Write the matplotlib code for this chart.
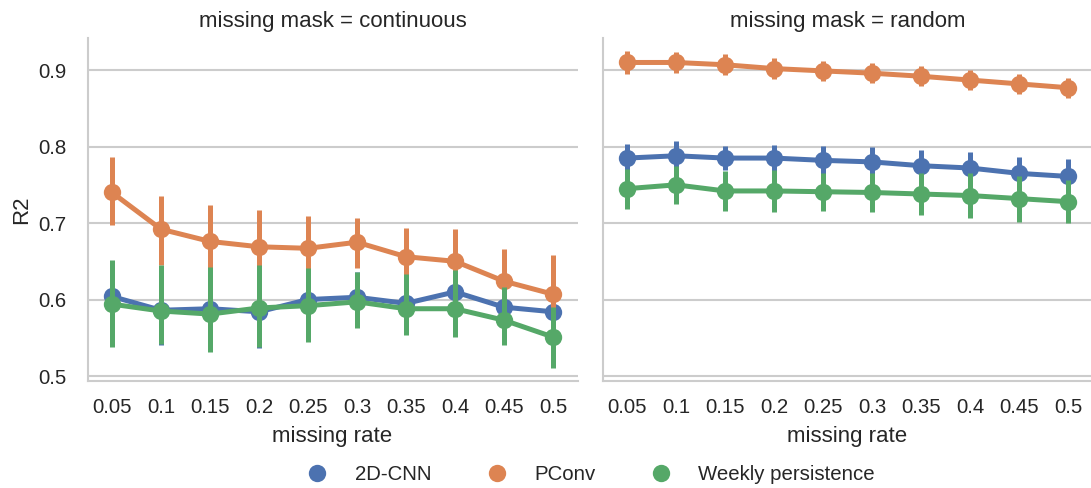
import matplotlib
matplotlib.use("Agg")
import matplotlib.pyplot as plt
from matplotlib.lines import Line2D

plt.rcParams['font.family'] = ['Liberation Sans', 'DejaVu Sans']

rates = ["0.05", "0.1", "0.15", "0.2", "0.25", "0.3", "0.35", "0.4", "0.45", "0.5"]
models = ["2D-CNN", "PConv", "Weekly persistence"]
masks = ["continuous", "random"]
colors = ["#4C72B0", "#DD8452", "#55A868"]

# continuous mask
cont_cnn_mean = [0.604, 0.586, 0.588, 0.584, 0.600, 0.603, 0.595, 0.610, 0.590, 0.584]
cont_cnn_lo = [0.548, 0.540, 0.540, 0.536, 0.550, 0.568, 0.558, 0.560, 0.548, 0.545]
cont_cnn_hi = [0.650, 0.638, 0.640, 0.635, 0.645, 0.636, 0.632, 0.650, 0.628, 0.620]

cont_pconv_mean = [0.740, 0.692, 0.676, 0.669, 0.667, 0.675, 0.656, 0.650, 0.624, 0.607]
cont_pconv_lo = [0.698, 0.645, 0.630, 0.622, 0.627, 0.641, 0.620, 0.610, 0.585, 0.560]
cont_pconv_hi = [0.786, 0.735, 0.724, 0.717, 0.709, 0.707, 0.693, 0.692, 0.666, 0.658]

cont_week_mean = [0.594, 0.585, 0.581, 0.589, 0.592, 0.597, 0.588, 0.588, 0.573, 0.551]
cont_week_lo = [0.538, 0.542, 0.531, 0.538, 0.544, 0.563, 0.554, 0.551, 0.540, 0.510]
cont_week_hi = [0.652, 0.645, 0.643, 0.645, 0.641, 0.636, 0.634, 0.639, 0.617, 0.590]

# random mask
rand_cnn_mean = [0.785, 0.788, 0.785, 0.785, 0.782, 0.780, 0.775, 0.772, 0.765, 0.761]
rand_cnn_lo = [0.766, 0.769, 0.769, 0.768, 0.763, 0.760, 0.755, 0.751, 0.743, 0.738]
rand_cnn_hi = [0.804, 0.807, 0.801, 0.802, 0.801, 0.800, 0.795, 0.793, 0.787, 0.784]

rand_pconv_mean = [0.910, 0.910, 0.907, 0.902, 0.899, 0.896, 0.892, 0.887, 0.882, 0.877]
rand_pconv_lo = [0.895, 0.896, 0.893, 0.888, 0.886, 0.883, 0.879, 0.874, 0.869, 0.864]
rand_pconv_hi = [0.925, 0.924, 0.921, 0.916, 0.912, 0.909, 0.905, 0.900, 0.895, 0.890]

rand_week_mean = [0.745, 0.750, 0.742, 0.742, 0.741, 0.740, 0.738, 0.736, 0.732, 0.728]
rand_week_lo = [0.719, 0.725, 0.716, 0.714, 0.716, 0.715, 0.710, 0.707, 0.702, 0.700]
rand_week_hi = [0.771, 0.775, 0.768, 0.770, 0.766, 0.765, 0.766, 0.765, 0.762, 0.756]

panels = {
    "continuous": [(cont_cnn_mean, cont_cnn_lo, cont_cnn_hi),
                   (cont_pconv_mean, cont_pconv_lo, cont_pconv_hi),
                   (cont_week_mean, cont_week_lo, cont_week_hi)],
    "random": [(rand_cnn_mean, rand_cnn_lo, rand_cnn_hi),
               (rand_pconv_mean, rand_pconv_lo, rand_pconv_hi),
               (rand_week_mean, rand_week_lo, rand_week_hi)],
}

W, H = 1091, 488
fig = plt.figure(figsize=(W / 100, H / 100), dpi=100)
ax_bottom = 1 - 381 / H
ax_top = 1 - 38 / H
ax_h = ax_top - ax_bottom
ax1 = fig.add_axes([87.5 / W, ax_bottom, 490 / W, ax_h])
ax2 = fig.add_axes([602.5 / W, ax_bottom, 490 / W, ax_h], sharey=ax1)
axes = [ax1, ax2]

grid_c = "#cccccc"
txt_c = "#262626"
for ax, mask in zip(axes, masks):
    x = list(range(len(rates)))
    for k, (mean, lo, hi) in enumerate(panels[mask]):
        z = 3 + k
        for xi, l, h in zip(x, lo, hi):
            ax.plot([xi, xi], [l, h], color=colors[k], lw=3.6, solid_capstyle='butt', zorder=z)
        ax.plot(x, mean, color=colors[k], lw=3.6, marker='o', markersize=12.5,
                markeredgewidth=0, zorder=z)
    ax.set_xlim(-0.5, len(rates) - 0.5)
    ax.set_ylim(0.4935, 0.942)
    ax.set_xticks(x)
    ax.set_xticklabels(rates)
    ax.set_yticks([0.5, 0.6, 0.7, 0.8, 0.9])
    ax.set_yticklabels(["0.5", "0.6", "0.7", "0.8", "0.9"])
    ax.grid(axis='y', color=grid_c, lw=1.5, zorder=0)
    ax.set_axisbelow(True)
    for s in ["top", "right"]:
        ax.spines[s].set_visible(False)
    for s in ["left", "bottom"]:
        ax.spines[s].set_color(grid_c)
        ax.spines[s].set_linewidth(1.5)
    ax.tick_params(axis='both', length=0, labelsize=14.7, colors=txt_c)
    ax.tick_params(axis='x', pad=12)
    ax.tick_params(axis='y', pad=15)
    ax.set_xlabel("missing rate", fontsize=16, color=txt_c, labelpad=7)
    ax.set_title(f"missing mask = {mask}", fontsize=16, color=txt_c, pad=8)

ax1.set_ylabel("R2", fontsize=16, color=txt_c)
ax1.yaxis.set_label_coords(-0.112, 0.5)
plt.setp(ax2.get_yticklabels(), visible=False)

handles = [Line2D([], [], color=c, marker='o', linestyle='none', markersize=12.5, markeredgewidth=0)
           for c in colors]
fig.legend(handles, models, loc='center', bbox_to_anchor=(586 / W, 1 - 475 / H), ncol=3,
           frameon=False, fontsize=14.7, handletextpad=0.84, columnspacing=2.2,
           labelcolor=txt_c, borderaxespad=0, borderpad=0)

fig.savefig("out.png", dpi=100)
